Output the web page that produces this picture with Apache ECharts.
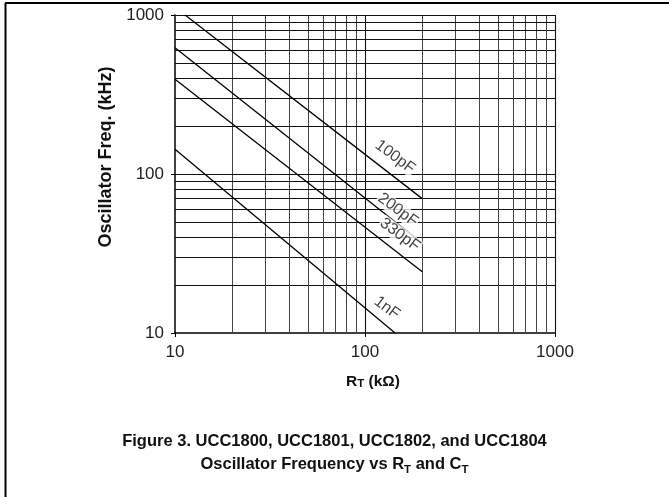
<!DOCTYPE html>
<html>
<head>
<meta charset="utf-8">
<script src="https://cdn.jsdelivr.net/npm/echarts@6/dist/echarts.min.js"></script>
<style>
html,body{margin:0;padding:0;background:#fff;}
#c{width:669px;height:497px;}
</style>
</head>
<body>
<div id="c"></div>
<script>
// ---- data ----
const seriesNames = ['100pF', '200pF', '330pF', '1nF'];
const curve100pF = [[11.3, 1000], [200, 70]];
const curve200pF = [[10, 623], [200, 36.7]];
const curve330pF = [[10, 394], [200, 24.3]];
const curve1nF   = [[10, 143], [144, 10]];
const labelPos = [[144, 128], [149, 59.4], [152.6, 41.4], [130.4, 14.4]];
const minorGrid = [20, 30, 40, 50, 60, 70, 80, 90, 200, 300, 400, 500, 600, 700, 800, 900];
const majorGrid = [100, 1000];
const axisMin = 10, axisMax = 1000;

const FONT = 'Liberation Sans, Arial, sans-serif';
const curves = [curve100pF, curve200pF, curve330pF, curve1nF];

const gridLines = [];
minorGrid.forEach(v => {
  gridLines.push({xAxis: v, lineStyle: {color: '#444', width: 1, type: 'solid'}});
  gridLines.push({yAxis: v, lineStyle: {color: '#111', width: 1.1, type: 'solid'}});
});
majorGrid.forEach(v => {
  gridLines.push({xAxis: v, lineStyle: {color: '#111', width: 1.1, type: 'solid'}});
  gridLines.push({yAxis: v, lineStyle: {color: '#111', width: 1.1, type: 'solid'}});
});

const series = curves.map((d, i) => ({
  name: seriesNames[i],
  type: 'line',
  data: d,
  symbol: 'none',
  z: 3,
  lineStyle: {color: '#000', width: 1.3},
  animation: false
}));
series[0].markLine = {
  silent: true,
  symbol: ['none', 'none'],
  label: {show: false},
  animation: false,
  z: 1,
  data: gridLines
};
series.push({
  type: 'scatter',
  z: 5,
  symbolSize: 0,
  animation: false,
  data: labelPos.map((p, i) => ({value: p, name: seriesNames[i]})),
  label: {
    show: true,
    position: 'inside',
    formatter: p => p.name,
    rotate: -36.5,
    fontFamily: FONT,
    fontSize: 16,
    color: '#111',
    backgroundColor: '#fff',
    padding: [0, 1]
  }
});

const chart = echarts.init(document.getElementById('c'), null, {renderer: 'canvas'});
chart.setOption({
  backgroundColor: '#fff',
  animation: false,
  title: {
    left: 'center',
    top: 425,
    text: 'Figure 3. UCC1800, UCC1801, UCC1802, and UCC1804\nOscillator Frequency vs {b|R}{s|T}{b| and C}{s|T}',
    textStyle: {
      fontFamily: FONT, fontSize: 16.5, fontWeight: 'bold', color: '#111', lineHeight: 23,
      rich: {
        b: {fontFamily: FONT, fontSize: 16.5, fontWeight: 'bold', color: '#111', lineHeight: 23},
        s: {fontFamily: FONT, fontSize: 11.5, fontWeight: 'bold', color: '#111', lineHeight: 23, verticalAlign: 'bottom'}
      }
    }
  },
  grid: {left: 175, right: 114, top: 15, bottom: 164, containLabel: false},
  xAxis: {
    type: 'log', logBase: 10, min: axisMin, max: axisMax,
    name: '{r|R}{t|T}{r| (kΩ)}',
    nameLocation: 'middle', nameGap: 41,
    nameTextStyle: {
      padding: [0, 0, 0, 16],
      rich: {
        r: {fontFamily: FONT, fontSize: 15.5, fontWeight: 'bold', color: '#111', lineHeight: 16},
        t: {fontFamily: FONT, fontSize: 11.5, fontWeight: 'bold', color: '#111', lineHeight: 14, verticalAlign: 'bottom'}
      }
    },
    axisLine: {show: true, lineStyle: {color: '#000', width: 1.5}},
    axisTick: {show: true, length: 4, lineStyle: {color: '#000'}},
    axisLabel: {fontFamily: FONT, fontSize: 17, color: '#222', margin: 11, formatter: v => String(v)},
    splitLine: {show: false},
    minorTick: {show: false}, minorSplitLine: {show: false}
  },
  yAxis: {
    type: 'log', logBase: 10, min: axisMin, max: axisMax,
    name: 'Oscillator Freq. (kHz)',
    nameLocation: 'middle', nameGap: 42, nameRotate: 90,
    nameTextStyle: {fontFamily: FONT, fontSize: 18, fontWeight: 'bold', color: '#111', padding: [0, 0, 0, 34]},
    axisLine: {show: true, lineStyle: {color: '#000', width: 1.5}},
    axisTick: {show: true, length: 4, lineStyle: {color: '#000'}},
    axisLabel: {fontFamily: FONT, fontSize: 17, color: '#222', margin: 11, formatter: v => String(v)},
    splitLine: {show: false},
    minorTick: {show: false}, minorSplitLine: {show: false}
  },
  graphic: [
    {type: 'line', shape: {x1: 5, y1: 3, x2: 669, y2: 3}, style: {stroke: '#000', lineWidth: 2}, silent: true},
    {type: 'line', shape: {x1: 5.5, y1: 3, x2: 5.5, y2: 497}, style: {stroke: '#000', lineWidth: 2}, silent: true}
  ],
  series: series
});
</script>
</body>
</html>
